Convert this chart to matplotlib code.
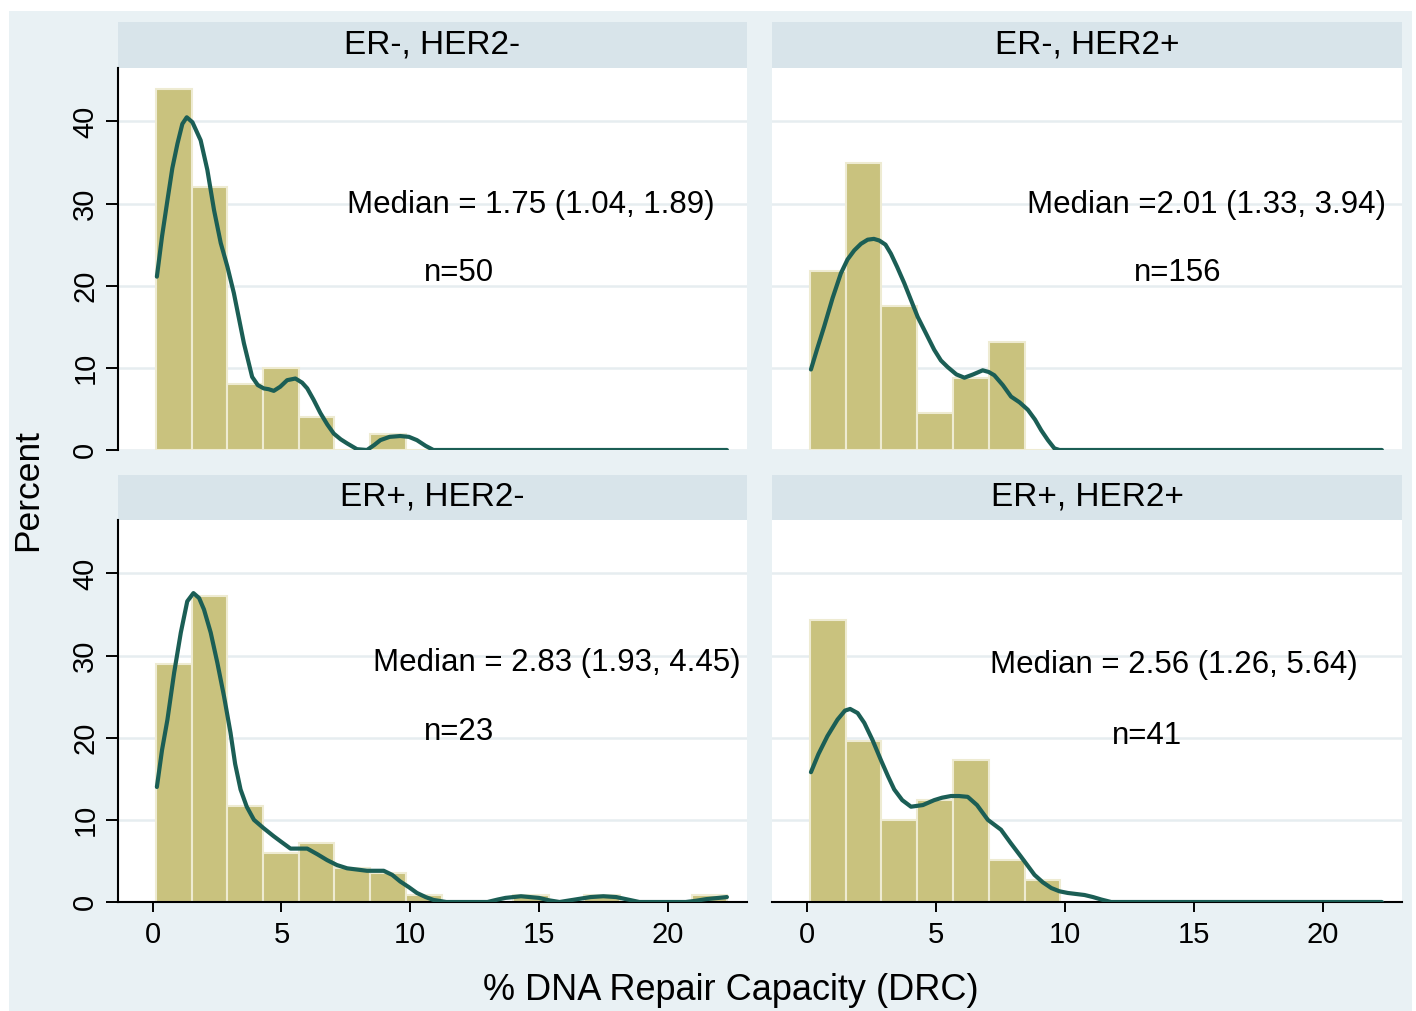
import numpy as np
import matplotlib.pyplot as plt
from matplotlib.patches import Rectangle

plt.rcParams['font.family'] = ['Liberation Sans', 'DejaVu Sans']

# histogram bins shared by all panels
bin_start = 0.12
bin_width = 1.387
n_bins = 16

titles = ['ER-, HER2-', 'ER-, HER2+', 'ER+, HER2-', 'ER+, HER2+']
medians = ['Median = 1.75 (1.04, 1.89)', 'Median =2.01 (1.33, 3.94)',
           'Median = 2.83 (1.93, 4.45)', 'Median = 2.56 (1.26, 5.64)']
n_labels = ['n=50', 'n=156', 'n=23', 'n=41']

# percent per bin
pct_tl = [44.0, 32.0, 8.0, 10.0, 4.0, 0, 2.0, 0, 0, 0, 0, 0, 0, 0, 0, 0]
pct_tr = [21.8, 34.9, 17.5, 4.5, 8.8, 13.2, 0, 0, 0, 0, 0, 0, 0, 0, 0, 0]
pct_bl = [29.0, 37.3, 11.7, 6.0, 7.2, 4.1, 3.5, 0.9, 0, 0, 0.8, 0, 0.8, 0, 0, 0.8]
pct_br = [34.3, 19.6, 10.0, 12.4, 17.3, 5.1, 2.7, 0, 0, 0, 0, 0, 0, 0, 0, 0]

# kernel density curves (scaled to percent axis)
kx_tl = [0.16, 0.36, 0.57, 0.76, 0.96, 1.15, 1.32, 1.54, 1.86, 2.12, 2.38, 2.64, 2.9, 3.15,
         3.54, 3.86, 4.08, 4.31, 4.5, 4.7, 4.95, 5.22, 5.54, 5.8, 6.0, 6.25, 6.51, 6.78,
         7.03, 7.3, 7.55, 7.93, 8.32, 8.6, 8.84, 9.2, 9.61, 9.95, 10.26, 10.6, 10.9, 22.3]
ky_tl = [21.1, 26.0, 30.4, 34.3, 37.3, 39.7, 40.5, 39.9, 37.7, 34.1, 29.2, 25.2, 22.3, 19.1,
         13.0, 8.9, 7.9, 7.5, 7.4, 7.2, 7.7, 8.5, 8.7, 8.2, 7.5, 6.1, 4.5, 3.1,
         2.0, 1.3, 0.8, 0.1, 0.0, 0.6, 1.2, 1.6, 1.7, 1.6, 1.2, 0.5, 0.0, 0.0]
kx_tr = [0.16, 0.4, 0.67, 1.0, 1.32, 1.58, 1.84, 2.1, 2.36, 2.6, 2.81, 3.05, 3.26, 3.5,
         3.78, 4.3, 4.94, 5.2, 5.46, 5.8, 6.11, 6.45, 6.82, 7.05, 7.27, 7.6, 7.92, 8.25,
         8.57, 8.85, 9.09, 9.35, 9.6, 9.8, 22.3]
ky_tr = [9.8, 12.3, 15.0, 18.5, 21.5, 23.2, 24.3, 25.1, 25.6, 25.7, 25.5, 25.0, 23.9, 22.3,
         20.3, 16.2, 12.2, 10.9, 10.1, 9.2, 8.8, 9.2, 9.7, 9.5, 9.1, 7.9, 6.5, 5.8,
         4.9, 3.7, 2.4, 1.2, 0.2, 0.0, 0.0]
kx_bl = [0.16, 0.36, 0.57, 0.83, 1.09, 1.34, 1.58, 1.8, 1.99, 2.25, 2.51, 2.77, 3.02, 3.2,
         3.41, 3.65, 3.93, 4.3, 4.7, 5.0, 5.35, 6.0, 6.4, 6.77, 7.15, 7.55, 8.32, 8.97,
         9.3, 9.61, 9.95, 10.26, 10.6, 10.9, 11.4, 13.0, 13.4, 13.7, 14.3, 15.0, 15.4, 15.8,
         16.6, 17.0, 17.5, 18.0, 18.3, 18.9, 20.7, 21.1, 21.5, 22.3]
ky_bl = [14.0, 18.5, 22.2, 27.9, 32.8, 36.6, 37.6, 37.0, 35.6, 32.8, 29.1, 25.0, 20.6, 16.8,
         13.7, 11.6, 10.0, 9.0, 8.0, 7.3, 6.5, 6.5, 5.8, 5.1, 4.5, 4.1, 3.8, 3.8,
         3.3, 2.5, 1.8, 1.1, 0.6, 0.25, 0.0, 0.0, 0.3, 0.5, 0.7, 0.5, 0.2, 0.0,
         0.4, 0.6, 0.7, 0.6, 0.4, 0.0, 0.0, 0.15, 0.35, 0.6]
kx_br = [0.16, 0.45, 0.8, 1.19, 1.48, 1.68, 1.97, 2.23, 2.55, 2.87, 3.15, 3.39, 3.7, 4.04,
         4.5, 4.94, 5.25, 5.59, 5.9, 6.24, 6.6, 7.02, 7.53, 7.9, 8.31, 8.83, 9.15, 9.48,
         9.8, 10.12, 10.77, 11.1, 11.42, 11.8, 22.3]
ky_br = [15.8, 18.0, 20.2, 22.2, 23.3, 23.5, 23.0, 21.8, 19.7, 17.3, 15.3, 13.7, 12.4, 11.6,
         11.8, 12.4, 12.7, 12.9, 12.9, 12.8, 11.8, 10.0, 8.8, 7.2, 5.5, 3.3, 2.4, 1.7,
         1.3, 1.1, 0.85, 0.6, 0.3, 0.0, 0.0]

pcts = [pct_tl, pct_tr, pct_bl, pct_br]
kxs = [kx_tl, kx_tr, kx_bl, kx_br]
kys = [ky_tl, ky_tr, ky_bl, ky_br]
med_pos = [(14.7, 29.8), (15.5, 29.8), (15.7, 29.1), (14.25, 28.8)]
n_pos = [(11.9, 21.5), (14.4, 21.5), (11.9, 20.7), (13.2, 20.2)]

W, H = 1416, 1011
bg = '#E9F1F4'
head_bg = '#D8E4EA'
bar_col = '#C9C27E'
line_col = '#1B5E55'
grid_col = '#E6EDF0'

fig = plt.figure(figsize=(W / 100, H / 100), dpi=100, facecolor='white')
fig.patches.append(Rectangle((9 / W, 0), (1412 - 9) / W, (1011 - 11) / H,
                             transform=fig.transFigure, facecolor=bg, edgecolor='none', zorder=-10))

# panel boxes in pixels: left, right, header top, plot top, plot bottom
lefts = [118, 772, 118, 772]
rights = [747, 1402, 747, 1402]
tops = [22, 22, 475, 475]
ptops = [68, 68, 520, 520]
bottoms = [450, 450, 902, 902]

edges = bin_start + bin_width * np.arange(n_bins + 1)

for i in range(4):
    l, r, t, pt, b = lefts[i], rights[i], tops[i], ptops[i], bottoms[i]
    hax = fig.add_axes([l / W, 1 - pt / H, (r - l) / W, (pt - t) / H])
    hax.set_facecolor(head_bg)
    hax.set_xticks([])
    hax.set_yticks([])
    for s in hax.spines.values():
        s.set_visible(False)
    hax.text(0.5, 0.5, titles[i], ha='center', va='center', fontsize=24, transform=hax.transAxes)

    ax = fig.add_axes([l / W, 1 - b / H, (r - l) / W, (b - pt) / H])
    ax.set_facecolor('white')
    ax.bar(edges[:-1], pcts[i], width=bin_width, align='edge', color=bar_col,
           edgecolor='#EEEBD2', linewidth=1.5, zorder=2)
    ax.plot(kxs[i], kys[i], color=line_col, lw=3, zorder=3,
            solid_capstyle='round', solid_joinstyle='round')
    ax.set_xlim(-1.35, 23.08)
    ax.set_ylim(0, 46.5)
    ax.set_yticks([0, 10, 20, 30, 40])
    ax.set_xticks([0, 5, 10, 15, 20])
    ax.grid(axis='y', color=grid_col, lw=1.8, zorder=0)
    ax.set_axisbelow(True)
    for s in ['top', 'right']:
        ax.spines[s].set_visible(False)
    ax.spines['left'].set_linewidth(1.5)
    ax.spines['bottom'].set_linewidth(1.5)
    ax.tick_params(axis='y', length=8.5, width=1.4, pad=5, labelsize=21, labelrotation=90)
    for lab in ax.get_yticklabels():
        lab.set_verticalalignment('center')
    ax.tick_params(axis='x', length=7.5, width=1.4, pad=6, labelsize=21)
    if i in (1, 3):
        ax.spines['left'].set_visible(False)
        ax.tick_params(axis='y', left=False, labelleft=False)
    if i in (0, 1):
        ax.spines['bottom'].set_visible(False)
        ax.tick_params(axis='x', bottom=False, labelbottom=False)

    ax.text(med_pos[i][0], med_pos[i][1], medians[i], ha='center', va='center', fontsize=22.5, zorder=4)
    ax.text(n_pos[i][0], n_pos[i][1], n_labels[i], ha='center', va='center', fontsize=22.5, zorder=4)

fig.text(28 / W, 1 - 490 / H, 'Percent', rotation=90, ha='center', va='center', fontsize=25.5)
fig.text(731 / W, 1 - 990 / H, '% DNA Repair Capacity (DRC)', ha='center', va='center', fontsize=26)

fig.savefig('out.png', dpi=100, facecolor='white')
